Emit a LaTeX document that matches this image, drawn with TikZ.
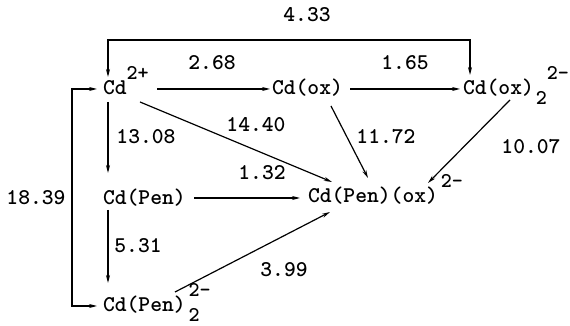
\documentclass[tikz,border=0pt]{standalone}
\usetikzlibrary{arrows.meta}
\newcommand{\supx}[1]{\smash{\rlap{\raisebox{15pt}{\fontsize{21}{21}\selectfont #1}}}}
\newcommand{\supsub}[4]{\smash{\rlap{\hspace*{#3}\raisebox{15pt}{\fontsize{21}{21}\selectfont #1}}\rlap{\hspace*{#4}\raisebox{-10pt}{\fontsize{21}{21}\selectfont #2}}}}
\tikzset{
  txt/.style={font=\fontsize{22.5}{26}\selectfont\ttfamily\bfseries, inner sep=0pt, outer sep=0pt},
  sp/.style={txt, anchor=base west},
  lbl/.style={txt, anchor=center},
  arr/.style={line width=1.2pt, -{Stealth[length=8pt,width=4pt]}},
  arrb/.style={line width=1.2pt, {Stealth[length=8pt,width=4pt]}-{Stealth[length=8pt,width=4pt]}},
}
\begin{document}
\begin{tikzpicture}[x=1pt,y=1pt]
\path[use as bounding box] (0,0) rectangle (570,326);
% species
\node[sp] (cd) at (103,231) {Cd\supx{2+}};
\node[sp] (cdox) at (272,231) {Cd(ox)};
\node[sp] (cdox2) at (463,231) {Cd(ox)\supsub{2-}{2}{13pt}{2pt}};
\node[sp] (cdpen) at (103,121) {Cd(Pen)};
\node[sp] (cdpen2) at (103,14) {Cd(Pen)\supsub{2-}{2}{3pt}{3pt}};
\node[sp] (cdpenox) at (308,123) {Cd(Pen)(ox)\supx{\hspace*{3pt}2-}};
% connectors
\draw[arrb] ([shift={(5,18)}]cd.base west) |- ([shift={(7,55)}]cdox2.base west) -- ([shift={(7,20)}]cdox2.base west);
\draw[arr] ([shift={(54,6)}]cd.base west) -- ([shift={(-2,6)}]cdox.base west);
\draw[arr] ([shift={(78,6)}]cdox.base west) -- ([shift={(-3,6)}]cdox2.base west);
\draw[arr] ([shift={(5,-7)}]cd.base west) -- ([shift={(5,32)}]cdpen.base west);
\draw[arr] ([shift={(5,-5)}]cdpen.base west) -- ([shift={(5,29)}]cdpen2.base west);
\draw[arrb] ([shift={(-6,6)}]cd.base west) -| ([shift={(-31,6)}]cdpen2.base west) -- ([shift={(-6,6)}]cdpen2.base west);
\draw[arr] ([shift={(37,-7)}]cd.base west) -- ([shift={(24,21)}]cdpenox.base west);
\draw[arr] ([shift={(91,7)}]cdpen.base west) -- ([shift={(-8,5)}]cdpenox.base west);
\draw[arr] ([shift={(59,-11)}]cdox.base west) -- ([shift={(60,25)}]cdpenox.base west);
\draw[arr] ([shift={(47,-5)}]cdox2.base west) -- ([shift={(120,20)}]cdpenox.base west);
\draw[arr] ([shift={(72,20)}]cdpen2.base west) -- ([shift={(22,-9)}]cdpenox.base west);
% labels
\node[lbl] (l433) at (307,311) {4.33};
\node[lbl] (l268) at (212,263) {2.68};
\node[lbl] (l165) at (405,263) {1.65};
\node[lbl] (l1308) at (146,189) {13.08};
\node[lbl] (l1440) at (256,201) {14.40};
\node[lbl] (l1172) at (386,189) {11.72};
\node[lbl] (l1007) at (531,179) {10.07};
\node[lbl] (l1839) at (36,128) {18.39};
\node[lbl] (l132) at (262,153) {1.32};
\node[lbl] (l531) at (138,80) {5.31};
\node[lbl] (l399) at (284,56) {3.99};
\end{tikzpicture}
\end{document}
